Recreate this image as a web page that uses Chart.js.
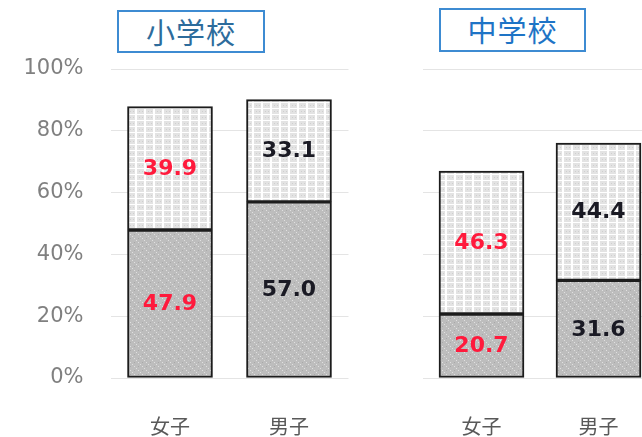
<!DOCTYPE html>
<html>
<head>
<meta charset="utf-8">
<script src="https://cdn.jsdelivr.net/npm/chart.js@4"></script>
<style>
  html, body { margin: 0; padding: 0; background: #fff; overflow: hidden; width: 642px; height: 437px; }
  .panel { position: absolute; top: 0; height: 437px; }
  #p1 { left: 0; width: 360px; }
  #p2 { left: 400px; width: 260px; }
  .title {
    position: absolute; box-sizing: border-box;
    border: 2px solid #3d8bd2; background: #fff;
    font-family: "Noto Sans CJK JP", sans-serif; font-size: 29px; font-weight: 400;
    text-align: center; line-height: 39px; letter-spacing: 1px;
  }
  #t1 { left: 117px; top: 10px; width: 148px; height: 43px; color: #2d6c9c; }
  #t2 { left: 439px; top: 8px; width: 147px; height: 44px; color: #1e74c6; }
</style>
</head>
<body>
<div class="panel" id="p1"><canvas id="c1" width="360" height="437"></canvas></div>
<div class="panel" id="p2"><canvas id="c2" width="260" height="437"></canvas></div>
<div class="title" id="t1">小学校</div>
<div class="title" id="t2">中学校</div>
<script>
// Categories and values (percent)
const genders = ['女子', '男子'];
const elementaryLower = [47.9, 57.0];
const elementaryUpper = [39.9, 33.1];
const juniorLower = [20.7, 31.6];
const juniorUpper = [46.3, 44.4];
const yTickValues = [0, 20, 40, 60, 80, 100];
const labelColors = ['#ff1a3c', '#1a1a24'];

// Fill patterns for the two stacked segments
function makePattern(kind) {
  const t = document.createElement('canvas');
  const g = t.getContext('2d');
  if (kind === 'light') {
    t.width = 9; t.height = 6;
    g.fillStyle = '#e3e3e3'; g.fillRect(0, 0, 9, 6);
    g.fillStyle = '#ffffff';
    g.fillRect(0, 0, 2, 6);
    g.fillRect(0, 0, 9, 1);
    g.fillStyle = '#cfcfcf';
    g.fillRect(4, 3, 1, 1); g.fillRect(7, 3, 1, 1);
  } else {
    t.width = 8; t.height = 8;
    g.fillStyle = '#bdbdbd'; g.fillRect(0, 0, 8, 8);
    g.fillStyle = '#e0e0e0';
    g.fillRect(0, 0, 1, 1); g.fillRect(4, 4, 1, 1);
    g.fillRect(2, 2, 1, 1); g.fillRect(6, 6, 1, 1);
    g.fillStyle = '#a8a8a8';
    g.fillRect(2, 6, 1, 1); g.fillRect(6, 2, 1, 1);
  }
  return g.createPattern(t, 'repeat');
}
const lightFill = makePattern('light');
const darkFill = makePattern('dark');

// Value labels centred in each segment
const valueLabels = {
  id: 'valueLabels',
  afterDatasetsDraw(chart) {
    const ctx = chart.ctx;
    ctx.save();
    ctx.font = 'bold 22px "DejaVu Sans", sans-serif';
    ctx.textAlign = 'center';
    ctx.textBaseline = 'middle';
    chart.data.datasets.forEach((ds, di) => {
      chart.getDatasetMeta(di).data.forEach((bar, i) => {
        const p = bar.getProps(['x', 'y', 'base'], true);
        ctx.fillStyle = labelColors[i];
        ctx.fillText(ds.data[i].toFixed(1), p.x, (p.y + p.base) / 2 + 1);
      });
    });
    ctx.restore();
  }
};

function makeChart(id, lower, upper, showY, padLeft, padRight) {
  return new Chart(document.getElementById(id), {
    type: 'bar',
    data: {
      labels: genders,
      datasets: [
        { label: 'lower', data: lower, backgroundColor: darkFill, borderColor: '#1c1c1c', borderWidth: 2, borderSkipped: false, barThickness: 85 },
        { label: 'upper', data: upper, backgroundColor: lightFill, borderColor: '#1c1c1c', borderWidth: 2, borderSkipped: false, barThickness: 85 }
      ]
    },
    options: {
      responsive: false,
      animation: false,
      devicePixelRatio: 1,
      layout: { padding: { top: 69, left: padLeft, right: padRight, bottom: 0 } },
      plugins: { legend: { display: false }, tooltip: { enabled: false } },
      scales: {
        x: {
          stacked: true,
          grid: { display: false, drawTicks: false },
          border: { display: false },
          ticks: { color: '#595959', font: { family: '"Noto Sans CJK JP", sans-serif', size: 20 }, padding: 36 },
          afterFit(s) { s.height = 59; }
        },
        y: {
          stacked: true,
          min: 0, max: 100,
          afterBuildTicks(s) { s.ticks = yTickValues.map(v => ({ value: v })); },
          grid: { color: '#e4e4e4', lineWidth: 1, drawTicks: false },
          border: { display: false },
          ticks: {
            display: showY,
            color: '#808080',
            padding: 27,
            font: { family: '"DejaVu Sans", sans-serif', size: 21 },
            callback: v => v + '%'
          },
          afterFit(s) { s.width = showY ? 110.5 : 0; }
        }
      }
    },
    plugins: [valueLabels]
  });
}

makeChart('c1', elementaryLower, elementaryUpper, true, 0, 11.5);
makeChart('c2', juniorLower, juniorUpper, false, 23, 3);
</script>
</body>
</html>
